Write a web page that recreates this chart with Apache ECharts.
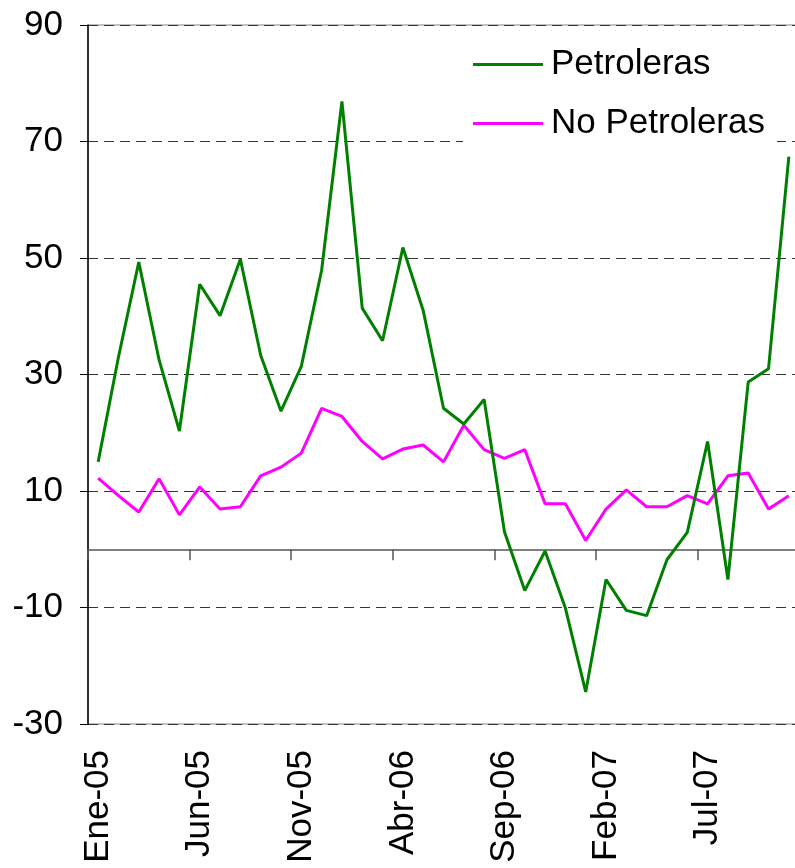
<!DOCTYPE html>
<html>

<head>
    <meta charset="utf-8">
    <title>ECharts</title>
    <script src="https://cdn.jsdelivr.net/npm/echarts@6/dist/echarts.min.js"></script>
</head>

<body style="margin:0;background:#fff;">
    <div id="main" style="width: 795px;height:868px;"></div>
    <script type="text/javascript">
        // meses (Ene-05 .. Nov-07)
        var meses = ['Ene-05', 'Feb-05', 'Mar-05', 'Abr-05', 'May-05', 'Jun-05', 'Jul-05', 'Ago-05', 'Sep-05', 'Oct-05',
            'Nov-05', 'Dic-05', 'Ene-06', 'Feb-06', 'Mar-06', 'Abr-06', 'May-06', 'Jun-06', 'Jul-06', 'Ago-06',
            'Sep-06', 'Oct-06', 'Nov-06', 'Dic-06', 'Ene-07', 'Feb-07', 'Mar-07', 'Abr-07', 'May-07', 'Jun-07',
            'Jul-07', 'Ago-07', 'Sep-07', 'Oct-07', 'Nov-07'];

        var petroleras = [15.0, 33, 49.3, 32.5, 20.3, 45.5, 40.1, 49.8, 33.3, 23.7,
            31.4, 47.9, 76.9, 41.4, 35.8, 51.8, 41.0, 24.2, 21.5, 25.7,
            3.0, -7.1, -0.3, -10.1, -24.5, -5.2, -10.5, -11.4, -1.8, 2.9,
            18.5, -5.2, 28.7, 31.0, 67.4];

        var noPetroleras = [12.2, 9.2, 6.4, 12.1, 5.9, 10.7, 6.9, 7.3, 12.6, 14.1,
            16.5, 24.2, 22.8, 18.5, 15.5, 17.2, 17.9, 15.0, 21.3, 17.1,
            15.6, 17.1, 7.8, 7.8, 1.5, 6.9, 10.2, 7.3, 7.3, 9.2,
            7.8, 12.6, 13.1, 6.9, 9.2];

        var fuente = 'Liberation Sans, Arial, sans-serif';

        var myChart = echarts.init(document.getElementById('main'));
        var option = {
            animation: false,
            backgroundColor: '#fff',
            textStyle: { fontFamily: fuente },
            grid: {
                left: 88,
                right: -4,
                top: 25,
                bottom: 144,
                show: true,
                borderColor: '#808080',
                borderWidth: 1,
                containLabel: false,
                outerBoundsMode: 'none'
            },
            legend: {
                orient: 'vertical',
                left: 463,
                top: 37,
                padding: [10, 12, 10, 10],
                backgroundColor: '#fff',
                icon: 'rect',
                itemWidth: 70,
                itemHeight: 3,
                itemGap: 24,
                textStyle: { fontSize: 35, color: '#000', fontFamily: fuente, padding: [0, 0, 0, 3] },
                data: ['Petroleras', 'No Petroleras']
            },
            xAxis: [{
                type: 'category',
                data: meses,
                position: 'bottom',
                axisLine: { show: false, onZero: false },
                axisTick: { show: false },
                axisLabel: {
                    interval: 4,
                    rotate: 90,
                    margin: 26,
                    fontSize: 35,
                    color: '#000',
                    fontFamily: fuente
                },
                splitLine: { show: false }
            }, {
                type: 'category',
                data: meses,
                position: 'top',
                axisLine: { show: true, onZero: true, lineStyle: { color: '#555', width: 1.5 } },
                axisTick: { show: true, inside: true, interval: 4, length: 11, lineStyle: { color: '#555', width: 1.5 } },
                axisLabel: { show: false },
                splitLine: { show: false }
            }],
            yAxis: {
                type: 'value',
                min: -30,
                max: 90,
                interval: 20,
                axisLine: { show: true, onZero: false, lineStyle: { color: '#000', width: 1.5 } },
                axisTick: { show: true, length: 8, lineStyle: { color: '#000' } },
                axisLabel: { fontSize: 35, color: '#000', margin: 25, fontFamily: fuente },
                splitLine: { show: true, lineStyle: { color: '#333', type: [10, 6], width: 1 } }
            },
            series: [{
                name: 'Petroleras',
                type: 'line',
                data: petroleras,
                symbol: 'none',
                lineStyle: { color: '#008000', width: 3 },
                itemStyle: { color: '#008000' },
                z: 3
            }, {
                name: 'No Petroleras',
                type: 'line',
                data: noPetroleras,
                symbol: 'none',
                lineStyle: { color: '#ff00ff', width: 3 },
                itemStyle: { color: '#ff00ff' },
                z: 2
            }]
        };
        myChart.setOption(option);
    </script>
</body>
</html>
